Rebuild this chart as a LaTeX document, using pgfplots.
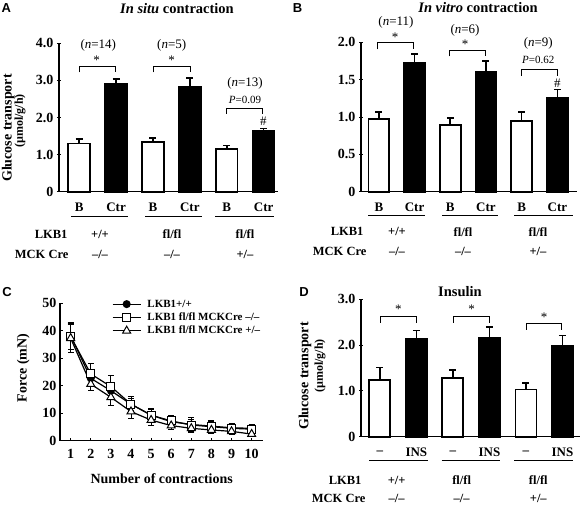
\documentclass[border=0pt]{standalone}
\usepackage{pgfplots}
\pgfplotsset{compat=1.18}
\usepackage{fontspec}
\setmainfont{Liberation Serif}
\newfontfamily\lsans{Liberation Sans}
\newcommand\fs[1]{\fontsize{#1bp}{#1bp}\selectfont}
\pgfplotsset{
 barax/.style={scale only axis, axis x line*=bottom, axis y line*=left,
  axis line style={line width=1.3bp,-}, ymin=0, clip=false,
  xtick={0,...,5}, xtick style={draw=none}, ytick style={line width=0.8bp, black},
  major tick length=4bp, tick align=center,
  /pgf/number format/assume math mode=true,
  yticklabel style={font=\bfseries\fs{14}},
  xticklabel style={font=\bfseries\fs{13}, anchor=center, yshift=-14bp}},
 wbar/.style={ybar, bar shift=0pt, bar width=#1, draw=black, line width=1.8bp,
  error bars/y dir=plus, error bars/y explicit,
  error bars/error bar style={line width=1.6bp},
  error bars/error mark options={rotate=90, mark size=3.5bp, line width=1.6bp}},
 cline/.style={black, line width=1.2bp,
  error bars/y dir=both, error bars/y explicit,
  error bars/error bar style={line width=0.8bp, solid},
  error bars/error mark options={rotate=90, mark size=3bp, line width=0.8bp}},
}
\begin{document}
\begin{tikzpicture}
\path[use as bounding box] (0,0) rectangle (583bp,506bp);

% ---------------- Panel A
\begin{axis}[barax, at={(59bp,314.3bp)}, anchor=south west, width=219bp, height=148.4bp,
  xmin=-0.547, xmax=5.39, ymax=4, ytick={0,1,2,3,4}, yticklabels={0,1.0,2.0,3.0,4.0},
  xticklabels={B,Ctr,B,Ctr,B,Ctr}]
\addplot[wbar=21.7bp, fill=white] table[x=x,y=y,y error=e]{
x y e
0 1.30 0.12
2 1.33 0.11
4 1.16 0.08
};
\addplot[wbar=21.7bp, fill=black] table[x=x,y=y,y error=e]{
x y e
1 2.90 0.14
3 2.83 0.23
5 1.63 0.07
};
\end{axis}

% ---------------- Panel B
\begin{axis}[barax, at={(361bp,314.3bp)}, anchor=south west, width=216bp, height=149.4bp,
  xmin=-0.5, xmax=5.55, ymax=2, ytick={0,0.5,1,1.5,2}, yticklabels={0,0.5,1.0,1.5,2.0},
  xticklabels={B,Ctr,B,Ctr,B,Ctr}]
\addplot[wbar=20.7bp, fill=white] table[x=x,y=y,y error=e]{
x y e
0 0.97 0.10
2 0.89 0.10
4 0.95 0.12
};
\addplot[wbar=20.7bp, fill=black] table[x=x,y=y,y error=e]{
x y e
1 1.73 0.11
3 1.61 0.14
5 1.26 0.11
};
\end{axis}

% ---------------- Panel D
\begin{axis}[barax, at={(361bp,69.3bp)}, anchor=south west, width=219bp, height=137.4bp,
  xmin=-0.515, xmax=5.48, ymax=3, ytick={0,1,2,3}, yticklabels={0,1.0,2.0,3.0},
  xticklabels={--,INS,--,INS,--,INS}]
\addplot[wbar=21bp, fill=white] table[x=x,y=y,y error=e]{
x y e
0 1.24 0.27
2 1.29 0.17
4 1.03 0.14
};
\addplot[wbar=21bp, fill=black] table[x=x,y=y,y error=e]{
x y e
1 2.13 0.19
3 2.15 0.24
5 1.98 0.23
};
\end{axis}

% ---------------- Panel C
\begin{axis}[scale only axis, at={(60bp,65.3bp)}, anchor=south west, width=203.3bp, height=137.4bp,
  axis x line*=bottom, axis y line*=left, axis line style={line width=1.3bp,-},
  xmin=0.47, xmax=10.58, ymin=0, ymax=50, xtick={1,...,10}, ytick={0,10,...,50},
  tick align=inside, major tick length=3bp, tick style={line width=0.8bp, black},
  /pgf/number format/assume math mode=true,
  ticklabel style={font=\bfseries\fs{14}}, xticklabel style={yshift=-5bp}, clip=false,
  legend style={draw=none, fill=none, at={(axis cs:3.05,51.8)}, anchor=north west,
    font=\bfseries\fs{11}, inner sep=0pt, row sep=1.8bp, nodes={inner sep=1.2bp},
    /tikz/every odd column/.append style={column sep=5bp}},
  legend cell align=left,
  legend image code/.code={\draw[mark repeat=2,mark phase=2,#1] plot coordinates {(0bp,0bp) (14bp,0bp) (28bp,0bp)};}]
\addplot[cline, mark=*, mark size=3.4bp, mark options={solid, fill=black}] table[x=x,y=y,y error=e]{
x y e
1 38.2 5.0
2 22.7 3.0
3 18.2 3.0
4 13.3 2.2
5 9.3 2.0
6 6.9 1.8
7 5.9 1.8
8 5.3 1.8
9 4.7 1.5
10 4.5 1.5
};
\addplot[cline, mark=square*, mark size=4bp, mark options={solid, fill=white, line width=1bp}] table[x=x,y=y,y error=e]{
x y e
1 37.9 4.8
2 24.3 4.0
3 19.7 4.0
4 13.3 2.7
5 9.3 2.5
6 7.2 2.1
7 5.7 2.6
8 5.1 2.3
9 4.5 1.9
10 4.2 1.8
};
\addplot[cline, mark=triangle*, mark size=4.6bp, mark options={solid, fill=white, line width=1bp}] table[x=x,y=y,y error=e]{
x y e
1 37.3 5.2
2 20.6 2.2
3 15.8 2.8
4 10.6 2.6
5 7.5 1.8
6 5.5 1.5
7 4.5 1.2
8 3.9 1.0
9 3.4 1.0
10 2.4 1.0
};
\legend{LKB1+/+, LKB1 fl/fl MCKCre --/--, LKB1 fl/fl MCKCre +/--}
\end{axis}

% ---------------- annotations in pixel coordinates
\begin{scope}[x=1bp,y=-1bp,yshift=506bp]
 % panel letters
 \node[font=\lsans\bfseries\fs{13}] at (6.2,8) {A};
 \node[font=\lsans\bfseries\fs{13}] at (297.5,7.7) {B};
 \node[font=\lsans\bfseries\fs{13}] at (7,292) {C};
 \node[font=\lsans\bfseries\fs{13}] at (304,292.5) {D};
 % titles
 \node[font=\bfseries\fs{14.5}] at (177,8.3) {\textit{In situ} contraction};
 \node[font=\bfseries\fs{14.5}] at (478,7.3) {\textit{In vitro} contraction};
 \node[font=\bfseries\fs{14.5}] at (460,291.7) {Insulin};
 % y labels
 \node[rotate=90, font=\bfseries\fs{14}] at (8.3,128) {Glucose transport};
 \node[rotate=90, font=\bfseries\fs{12}] at (20,121) {(µmol/g/h)};
 \node[rotate=90, font=\bfseries\fs{14}] at (305,376) {Glucose transport};
 \node[rotate=90, font=\bfseries\fs{12}] at (320,366) {(µmol/g/h)};
 \node[rotate=90, font=\bfseries\fs{14}] at (23.3,368) {Force (mN)};
 \node[font=\bfseries\fs{14}] at (161.7,478.3) {Number of contractions};
 % n annotations
 \begin{scope}[font=\fs{13}]
  \node at (98.3,45) {(\textit{n}=14)};
  \node at (171.7,45) {(\textit{n}=5)};
  \node at (245,83.3) {(\textit{n}=13)};
  \node at (396,22.7) {(\textit{n}=11)};
  \node at (465,30) {(\textit{n}=6)};
  \node at (538.3,43.3) {(\textit{n}=9)};
 \end{scope}
 \begin{scope}[font=\fs{13}]
  \node at (96.7,60.5) {*};
  \node at (171.7,60.5) {*};
  \node at (395,37.2) {*};
  \node at (465,43.9) {*};
  \node at (398.3,309.5) {*};
  \node at (471.7,309.5) {*};
  \node at (544,317.2) {*};
  \node at (263.3,121.7) {\#};
  \node at (557.3,83.3) {\#};
 \end{scope}
 \node[font=\fs{11}] at (245,100) {\textit{P}=0.09};
 \node[font=\fs{11}] at (538.3,60) {\textit{P}=0.62};
 \begin{scope}[line width=0.7bp]
  \draw (79,72.3) -- (79,66.7) -- (115,66.7) -- (115,72.3);
  \draw (153.3,72.3) -- (153.3,66.7) -- (190,66.7) -- (190,72.3);
  \draw (226.7,114) -- (226.7,108.3) -- (262.3,108.3) -- (262.3,114);
  \draw (377,49.3) -- (377,42.7) -- (413,42.7) -- (413,49.3);
  \draw (449,56.5) -- (449,50) -- (485,50) -- (485,56.5);
  \draw (521.7,75.7) -- (521.7,69) -- (557.3,69) -- (557.3,75.7);
  \draw (380.7,322.7) -- (380.7,316) -- (416.7,316) -- (416.7,322.7);
  \draw (453.3,322.7) -- (453.3,316) -- (489,316) -- (489,322.7);
  \draw (526,330) -- (526,323.3) -- (561.7,323.3) -- (561.7,330);
 \end{scope}
 % underlines
 \begin{scope}[line width=1bp]
  \draw (71,216.7) -- (128,216.7); \draw (145,216.7) -- (201.7,216.7); \draw (215,216.7) -- (274,216.7);
  \draw (368,216) -- (425,216); \draw (442,216) -- (498,216); \draw (514,216) -- (573,216);
  \draw (369,461) -- (427.7,461); \draw (441.7,461) -- (500,461); \draw (514,461) -- (573,461);
 \end{scope}
 % genotype rows
 \begin{scope}[font=\bfseries\fs{12.5}]
  \node[anchor=east] at (71,234) {LKB1};
  \node[anchor=east] at (72,254) {MCK Cre};
  \node at (100,234) {+/+}; \node at (172,234) {fl/fl}; \node at (245,234) {fl/fl};
  \node at (100,254) {--/--}; \node at (172,254) {--/--}; \node at (245,254) {+/--};
  \node[anchor=east] at (367,231.7) {LKB1};
  \node[anchor=east] at (370,251.7) {MCK Cre};
  \node at (397,231.7) {+/+}; \node at (463,231.7) {fl/fl}; \node at (538,231.7) {fl/fl};
  \node at (397,251.7) {--/--}; \node at (463,251.7) {--/--}; \node at (538,251.7) {+/--};
  \node[anchor=east] at (365,480) {LKB1};
  \node[anchor=east] at (369,498.3) {MCK Cre};
  \node at (396.7,480) {+/+}; \node at (461.7,480) {fl/fl}; \node at (538.3,480) {fl/fl};
  \node at (396.7,498.3) {--/--}; \node at (461.7,498.3) {--/--}; \node at (538.3,498.3) {+/--};
 \end{scope}
\end{scope}
\end{tikzpicture}
\end{document}
